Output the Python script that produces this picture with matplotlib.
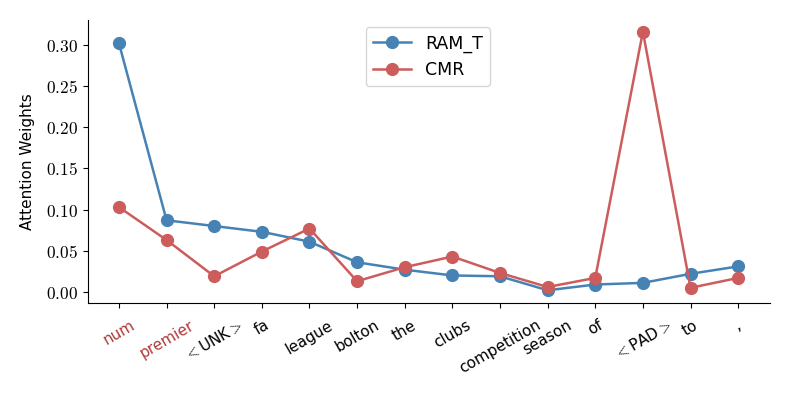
import matplotlib
matplotlib.use("Agg")
import matplotlib.pyplot as plt
from matplotlib.ticker import FuncFormatter

tokens = ["num", "premier", "<UNK>", "fa", "league", "bolton", "the", "clubs",
          "competition", "season", "of", "<PAD>", "to", ","]
ram_t = [0.302, 0.087, 0.080, 0.073, 0.061, 0.036, 0.027, 0.020, 0.019, 0.002,
         0.009, 0.011, 0.022, 0.031]
cmr = [0.103, 0.063, 0.019, 0.049, 0.077, 0.013, 0.030, 0.043, 0.023, 0.006,
       0.017, 0.316, 0.005, 0.017]
highlight = ["num", "premier"]

plt.rcParams['mathtext.fontset'] = 'cm'
plt.rcParams['font.family'] = ['DejaVu Sans']

fig = plt.figure(figsize=(7.89, 3.95), dpi=100)
ax = fig.add_axes([0.1115, 0.233, 0.8645, 0.716])

x = list(range(len(tokens)))
ax.plot(x, ram_t, '-o', color='#4682B4', lw=1.8, ms=8.5, label='RAM_T')
ax.plot(x, cmr, '-o', color='#CD5C5C', lw=1.8, ms=8.5, label='CMR')

def fmt_label(t):
    return t.replace('<', r'$\mathbf{<}$').replace('>', r'$\mathbf{>}$')

ax.set_xticks(x)
ax.set_xticklabels([fmt_label(t) for t in tokens], rotation=30, ha='center', fontsize=11)
for lbl, t in zip(ax.get_xticklabels(), tokens):
    if t in highlight:
        lbl.set_color('#B03A3A')
ax.tick_params(axis='x', pad=7)

ax.set_yticks([0.0, 0.05, 0.10, 0.15, 0.20, 0.25, 0.30])
ax.yaxis.set_major_formatter(FuncFormatter(lambda v, p: r'$%.2f$' % v))
ax.tick_params(axis='y', labelsize=12.5)
ax.set_xlim(-0.65, 13.67)
ax.set_ylim(-0.0134, 0.330)
ax.set_ylabel('Attention Weights', fontsize=11, labelpad=8)

for s in ['top', 'right']:
    ax.spines[s].set_visible(False)

ax.legend(loc='upper center', bbox_to_anchor=(0.498, 1.005), fontsize=12.5, framealpha=0.8,
          handlelength=2.2)

fig.savefig('out.png', dpi=100)
